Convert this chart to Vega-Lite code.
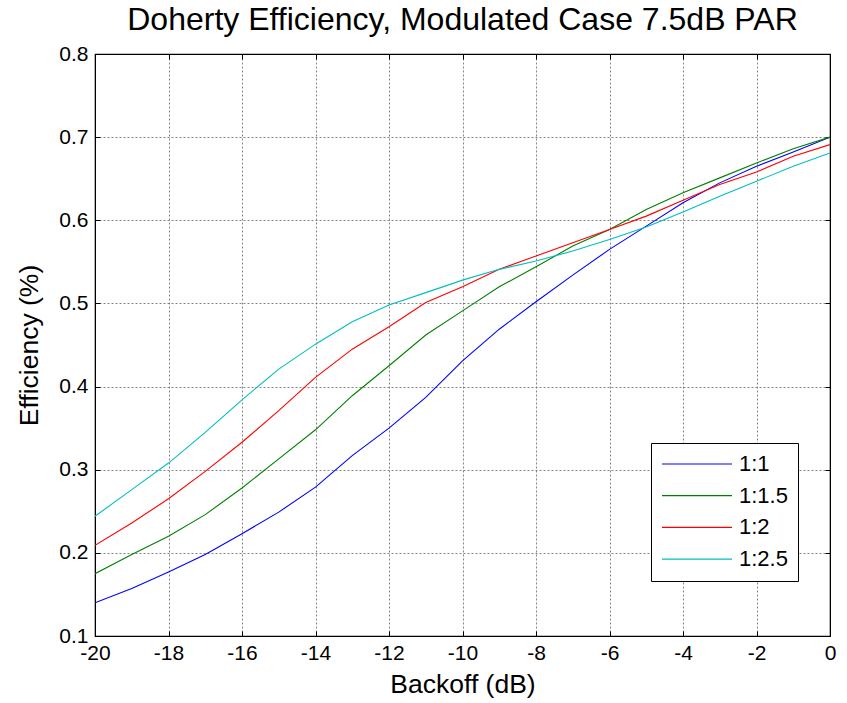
{
  "$schema": "https://vega.github.io/schema/vega-lite/v6.json",
  "autosize": {"type": "none"},
  "width": 735,
  "height": 582,
  "padding": {"left": 95, "top": 54, "right": 17, "bottom": 67},
  "background": "white",
  "title": {"text": "Doherty Efficiency, Modulated Case 7.5dB PAR", "font": "Liberation Sans", "fontSize": 32, "fontWeight": "normal", "color": "#000", "offset": 6},
  "config": {
    "view": {"stroke": "#000", "strokeWidth": 1.2},
    "font": "Liberation Sans"
  },
  "data": {"values": [
    {"backoff": -20, "ratio": "1:1", "eff": 0.140}, {"backoff": -19, "ratio": "1:1", "eff": 0.157}, {"backoff": -18, "ratio": "1:1", "eff": 0.177}, {"backoff": -17, "ratio": "1:1", "eff": 0.198}, {"backoff": -16, "ratio": "1:1", "eff": 0.223}, {"backoff": -15, "ratio": "1:1", "eff": 0.249}, {"backoff": -14, "ratio": "1:1", "eff": 0.279}, {"backoff": -13, "ratio": "1:1", "eff": 0.317}, {"backoff": -12, "ratio": "1:1", "eff": 0.350}, {"backoff": -11, "ratio": "1:1", "eff": 0.387}, {"backoff": -10, "ratio": "1:1", "eff": 0.431}, {"backoff": -9, "ratio": "1:1", "eff": 0.469}, {"backoff": -8, "ratio": "1:1", "eff": 0.502}, {"backoff": -7, "ratio": "1:1", "eff": 0.534}, {"backoff": -6, "ratio": "1:1", "eff": 0.565}, {"backoff": -5, "ratio": "1:1", "eff": 0.593}, {"backoff": -4, "ratio": "1:1", "eff": 0.621}, {"backoff": -3, "ratio": "1:1", "eff": 0.645}, {"backoff": -2, "ratio": "1:1", "eff": 0.665}, {"backoff": -1, "ratio": "1:1", "eff": 0.682}, {"backoff": 0, "ratio": "1:1", "eff": 0.700},
    {"backoff": -20, "ratio": "1:1.5", "eff": 0.175}, {"backoff": -19, "ratio": "1:1.5", "eff": 0.198}, {"backoff": -18, "ratio": "1:1.5", "eff": 0.220}, {"backoff": -17, "ratio": "1:1.5", "eff": 0.246}, {"backoff": -16, "ratio": "1:1.5", "eff": 0.278}, {"backoff": -15, "ratio": "1:1.5", "eff": 0.313}, {"backoff": -14, "ratio": "1:1.5", "eff": 0.348}, {"backoff": -13, "ratio": "1:1.5", "eff": 0.389}, {"backoff": -12, "ratio": "1:1.5", "eff": 0.425}, {"backoff": -11, "ratio": "1:1.5", "eff": 0.462}, {"backoff": -10, "ratio": "1:1.5", "eff": 0.491}, {"backoff": -9, "ratio": "1:1.5", "eff": 0.520}, {"backoff": -8, "ratio": "1:1.5", "eff": 0.544}, {"backoff": -7, "ratio": "1:1.5", "eff": 0.569}, {"backoff": -6, "ratio": "1:1.5", "eff": 0.589}, {"backoff": -5, "ratio": "1:1.5", "eff": 0.613}, {"backoff": -4, "ratio": "1:1.5", "eff": 0.633}, {"backoff": -3, "ratio": "1:1.5", "eff": 0.651}, {"backoff": -2, "ratio": "1:1.5", "eff": 0.669}, {"backoff": -1, "ratio": "1:1.5", "eff": 0.686}, {"backoff": 0, "ratio": "1:1.5", "eff": 0.700},
    {"backoff": -20, "ratio": "1:2", "eff": 0.209}, {"backoff": -19, "ratio": "1:2", "eff": 0.236}, {"backoff": -18, "ratio": "1:2", "eff": 0.265}, {"backoff": -17, "ratio": "1:2", "eff": 0.298}, {"backoff": -16, "ratio": "1:2", "eff": 0.333}, {"backoff": -15, "ratio": "1:2", "eff": 0.371}, {"backoff": -14, "ratio": "1:2", "eff": 0.411}, {"backoff": -13, "ratio": "1:2", "eff": 0.445}, {"backoff": -12, "ratio": "1:2", "eff": 0.472}, {"backoff": -11, "ratio": "1:2", "eff": 0.501}, {"backoff": -10, "ratio": "1:2", "eff": 0.520}, {"backoff": -9, "ratio": "1:2", "eff": 0.541}, {"backoff": -8, "ratio": "1:2", "eff": 0.557}, {"backoff": -7, "ratio": "1:2", "eff": 0.573}, {"backoff": -6, "ratio": "1:2", "eff": 0.589}, {"backoff": -5, "ratio": "1:2", "eff": 0.605}, {"backoff": -4, "ratio": "1:2", "eff": 0.624}, {"backoff": -3, "ratio": "1:2", "eff": 0.643}, {"backoff": -2, "ratio": "1:2", "eff": 0.658}, {"backoff": -1, "ratio": "1:2", "eff": 0.677}, {"backoff": 0, "ratio": "1:2", "eff": 0.691},
    {"backoff": -20, "ratio": "1:2.5", "eff": 0.244}, {"backoff": -19, "ratio": "1:2.5", "eff": 0.276}, {"backoff": -18, "ratio": "1:2.5", "eff": 0.308}, {"backoff": -17, "ratio": "1:2.5", "eff": 0.345}, {"backoff": -16, "ratio": "1:2.5", "eff": 0.384}, {"backoff": -15, "ratio": "1:2.5", "eff": 0.421}, {"backoff": -14, "ratio": "1:2.5", "eff": 0.451}, {"backoff": -13, "ratio": "1:2.5", "eff": 0.478}, {"backoff": -12, "ratio": "1:2.5", "eff": 0.498}, {"backoff": -11, "ratio": "1:2.5", "eff": 0.513}, {"backoff": -10, "ratio": "1:2.5", "eff": 0.528}, {"backoff": -9, "ratio": "1:2.5", "eff": 0.541}, {"backoff": -8, "ratio": "1:2.5", "eff": 0.551}, {"backoff": -7, "ratio": "1:2.5", "eff": 0.563}, {"backoff": -6, "ratio": "1:2.5", "eff": 0.577}, {"backoff": -5, "ratio": "1:2.5", "eff": 0.592}, {"backoff": -4, "ratio": "1:2.5", "eff": 0.610}, {"backoff": -3, "ratio": "1:2.5", "eff": 0.629}, {"backoff": -2, "ratio": "1:2.5", "eff": 0.647}, {"backoff": -1, "ratio": "1:2.5", "eff": 0.665}, {"backoff": 0, "ratio": "1:2.5", "eff": 0.681}
  ]},
  "layer": [
    {
      "mark": {"type": "line", "strokeWidth": 1.1, "clip": true},
      "encoding": {
        "x": {"field": "backoff", "type": "quantitative", "scale": {"domain": [-20, 0], "nice": false, "zero": false},
          "axis": {"title": "Backoff (dB)", "titleFont": "Liberation Sans", "titleFontSize": 26.5, "titleFontWeight": "normal", "titleColor": "#000", "titlePadding": 8,
            "values": [-20, -18, -16, -14, -12, -10, -8, -6, -4, -2, 0], "labelExpr": "'' + datum.value", "labelFont": "Liberation Sans", "labelFontSize": 21, "labelColor": "#000", "labelPadding": 11, "labelFlush": false, "labelOverlap": false,
            "tickSize": -5, "tickColor": "#000", "domainColor": "#000", "grid": true, "gridColor": "#666", "gridDash": [2, 2], "gridOpacity": 0.8}},
        "y": {"field": "eff", "type": "quantitative", "scale": {"domain": [0.1, 0.8], "nice": false, "zero": false},
          "axis": {"title": "Efficiency (%)", "titleFont": "Liberation Sans", "titleFontSize": 26.5, "titleFontWeight": "normal", "titleColor": "#000", "titlePadding": 15,
            "values": [0.1, 0.2, 0.3, 0.4, 0.5, 0.6, 0.7, 0.8], "format": ".1f", "labelFont": "Liberation Sans", "labelFontSize": 21, "labelColor": "#000", "labelPadding": 12, "labelFlush": false, "labelOverlap": false,
            "tickSize": -5, "tickColor": "#000", "domainColor": "#000", "grid": true, "gridColor": "#666", "gridDash": [2, 2], "gridOpacity": 0.8}},
        "color": {"field": "ratio", "type": "nominal",
          "scale": {"domain": ["1:1", "1:1.5", "1:2", "1:2.5"], "range": ["#0000ff", "#008000", "#ff0000", "#00bfbf"]},
          "legend": {"title": null, "orient": "none", "legendX": 556, "legendY": 389, "symbolType": "stroke", "symbolSize": 4900, "symbolStrokeWidth": 1.2, "clipHeight": 22,
            "labelFont": "Liberation Sans", "labelFontSize": 22, "labelColor": "#000", "labelOffset": 6, "rowPadding": 9.7,
            "strokeColor": "#000", "fillColor": "#fff", "padding": 10, "offset": 0}}
      }
    },
    {
      "mark": {"type": "line", "opacity": 0},
      "encoding": {
        "x": {"field": "backoff", "type": "quantitative", "axis": {"orient": "top", "title": null, "labels": false, "grid": false, "values": [-20, -18, -16, -14, -12, -10, -8, -6, -4, -2, 0], "tickSize": -5, "tickColor": "#000", "domainColor": "#000"}},
        "y": {"field": "eff", "type": "quantitative", "axis": {"orient": "right", "title": null, "labels": false, "grid": false, "values": [0.1, 0.2, 0.3, 0.4, 0.5, 0.6, 0.7, 0.8], "tickSize": -5, "tickColor": "#000", "domainColor": "#000"}},
        "detail": {"field": "ratio"}
      }
    }
  ],
  "resolve": {"axis": {"x": "independent", "y": "independent"}}
}
